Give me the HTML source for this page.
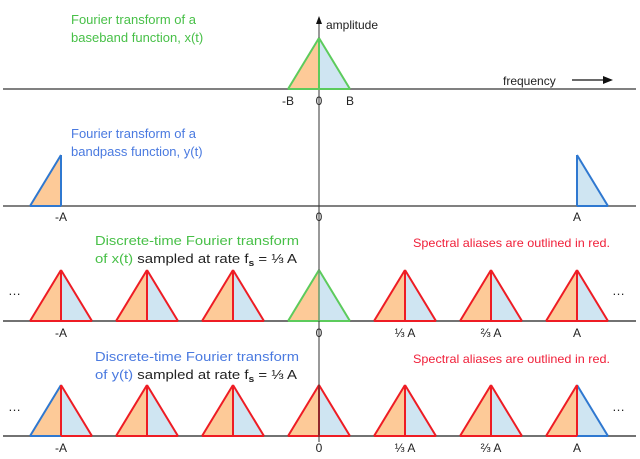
<!DOCTYPE html>
<html><head><meta charset="utf-8"><style>
html,body{margin:0;padding:0;background:#fff;}
svg{display:block;font-family:"Liberation Sans",sans-serif;}
</style></head><body>
<svg id="chart" width="640" height="459" viewBox="0 0 640 459">
<g id="lines"></g>
<g id="marks"></g>
<g id="texts" font-size="13">
  <text x="71" y="24" fill="#48c048">Fourier transform of a</text>
  <text x="71" y="42" fill="#48c048">baseband function, x(t)</text>
  <text x="326" y="29" fill="#222" font-size="12">amplitude</text>
  <text x="503" y="85" fill="#222" font-size="12">frequency</text>
  <text x="71" y="138" fill="#4a7ae0">Fourier transform of a</text>
  <text x="71" y="156" fill="#4a7ae0">bandpass function, y(t)</text>
  <text x="95" y="245" fill="#48c048" textLength="204" lengthAdjust="spacingAndGlyphs">Discrete-time Fourier transform</text>
  <text x="95" y="263" fill="#222" textLength="202" lengthAdjust="spacingAndGlyphs"><tspan fill="#48c048">of x(t)</tspan> sampled at rate f<tspan font-size="9" font-weight="bold" dy="3">s</tspan><tspan dy="-3"> = ⅓ A</tspan></text>
  <text x="413" y="247" fill="#f0203a" font-size="12" textLength="197" lengthAdjust="spacingAndGlyphs">Spectral aliases are outlined in red.</text>
  <text x="95" y="361" fill="#4a7ae0" textLength="204" lengthAdjust="spacingAndGlyphs">Discrete-time Fourier transform</text>
  <text x="95" y="379" fill="#222" textLength="202" lengthAdjust="spacingAndGlyphs"><tspan fill="#4a7ae0">of y(t)</tspan> sampled at rate f<tspan font-size="9" font-weight="bold" dy="3">s</tspan><tspan dy="-3"> = ⅓ A</tspan></text>
  <text x="413" y="363" fill="#f0203a" font-size="12" textLength="197" lengthAdjust="spacingAndGlyphs">Spectral aliases are outlined in red.</text>
  <text x="8" y="295" fill="#222">…</text>
  <text x="612" y="295" fill="#222">…</text>
  <text x="8" y="411" fill="#222">…</text>
  <text x="612" y="411" fill="#222">…</text>
</g>
</svg>
<script>
// data: positions in units of A/3 (A = 3), heights normalized
const row3Centers = [-3,-2,-1,0,1,2,3];
const row3Kinds = ['red','red','red','green','red','red','red'];
const row4Centers = [-3,-2,-1,0,1,2,3];
const row4Kinds = ['blueL','red','red','red','red','red','blueR'];
const tickValues = [-3,0,1,2,3];
const tickLabels = ['-A','0','⅓ A','⅔ A','A'];
const halfWidth = 0.36; // B in units of A/3

const NS='http://www.w3.org/2000/svg';
const x0=319, unit=86;
const xs = v => x0 + v*unit;
const baselines=[89,206,321,436];
const height=51;
const ORANGE='#fdca98', BLUE='#cfe5f2', RED='#ee1c24', GREEN='#5ccb5c', BL='#2f78d0';
const lines=document.getElementById('lines'), marks=document.getElementById('marks');
function el(tag,attrs,parent){const e=document.createElementNS(NS,tag);for(const k in attrs)e.setAttribute(k,attrs[k]);parent.appendChild(e);return e;}

baselines.forEach((b,i)=>{
  const l=el('line',{x1:3,x2:636,y1:b,y2:b,stroke:i<2?'#808080':'#444','stroke-width':i<2?2:1.5},lines);
  
  
});
const ax=el('line',{x1:x0,x2:x0,y1:20,y2:442,stroke:'#333','stroke-width':1},lines);


const ah=el('polygon',{points:`${x0-3},24 ${x0+3},24 ${x0},16`,fill:'#111'},lines);


const fa=el('line',{x1:572,x2:605,y1:80,y2:80,stroke:'#111','stroke-width':1.2},lines);


el('polygon',{points:'603,76 613,80 603,84',fill:'#111'},lines);

function tri(c,base,kind,name,part,centerColor){
  const xc=xs(c), hw=halfWidth*unit, top=base-height;
  const g=el('g',{},marks);
  
  
  const showL = part!=='right', showR = part!=='left';
  if(showL) el('polygon',{points:`${xc-hw},${base} ${xc},${top} ${xc},${base}`,fill:ORANGE},g);
  if(showR) el('polygon',{points:`${xc},${base} ${xc},${top} ${xc+hw},${base}`,fill:BLUE},g);
  let cl,cr,cm;
  if(kind==='red'){cl=cr=cm=RED;}
  else if(kind==='green'){cl=cr=cm=GREEN;}
  else if(kind==='blueL'){cl=BL;cr=RED;cm=RED;}
  else if(kind==='blueR'){cl=RED;cr=BL;cm=RED;}
  else {cl=cr=cm=BL;}
  const sw=2;
  if(showL){el('line',{x1:xc-hw,y1:base,x2:xc,y2:top,stroke:cl,'stroke-width':sw},g);
    el('line',{x1:xc-hw,y1:base,x2:xc,y2:base,stroke:cl,'stroke-width':sw},g);}
  if(showR){el('line',{x1:xc,y1:top,x2:xc+hw,y2:base,stroke:cr,'stroke-width':sw},g);
    el('line',{x1:xc,y1:base,x2:xc+hw,y2:base,stroke:cr,'stroke-width':sw},g);}
  const mc = centerColor || cm;
  if(mc!=='none') el('line',{x1:xc,y1:top,x2:xc,y2:base,stroke:mc,'stroke-width':sw},g);
}
tri(0,baselines[0],'green','baseband-spectrum',null,GREEN);
tri(-3,baselines[1],'blue','bandpass-negative','left');
tri(3,baselines[1],'blue','bandpass-positive','right');
row3Centers.forEach((c,i)=>tri(c,baselines[2],row3Kinds[i],'dtft-x-copy-'+i,null,row3Kinds[i]==='green'?'none':null));
row4Centers.forEach((c,i)=>tri(c,baselines[3],row4Kinds[i],'dtft-y-copy-'+i));
const ax2=el('line',{x1:x0,x2:x0,y1:baselines[0]+2,y2:442,stroke:'#333','stroke-width':1},marks);


const g3=el('line',{x1:x0,x2:x0,y1:baselines[2]-height,y2:baselines[2],stroke:'#6a9a6a','stroke-width':1.5},marks);



function label(x,y,t,name){const e=el('text',{x:x,y:y,'text-anchor':'middle','font-size':12,fill:'#222'},marks);e.textContent=t;
  
  }
label(xs(-halfWidth),105,'-B','tick-minus-b');
label(x0,105,'0','tick-zero-1');
label(xs(halfWidth),105,'B','tick-b');
label(xs(-3),221,'-A','tick-row2-minus-a');
label(x0,221,'0','tick-row2-zero');
label(xs(3),221,'A','tick-row2-a');
[2,3].forEach(r=>tickValues.forEach((v,i)=>label(xs(v),baselines[r]+16,tickLabels[i],'tick-row'+(r+1)+'-'+i)));
</script>
</body></html>
